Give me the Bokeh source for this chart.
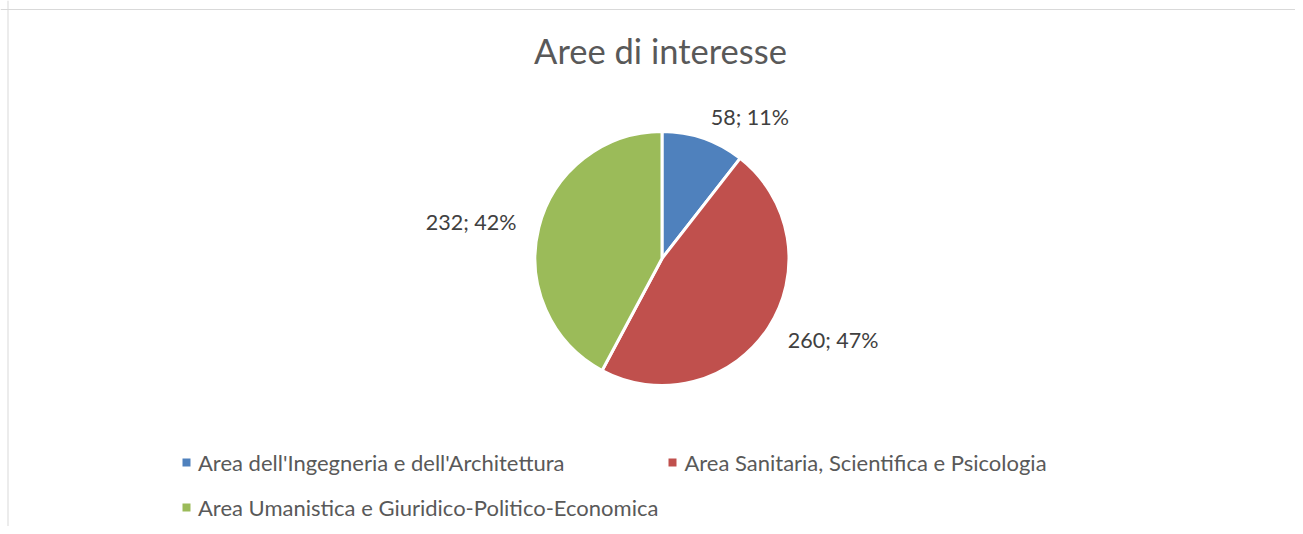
import math
from bokeh.plotting import figure
from bokeh.models import (ColumnDataSource, Range1d, Span, Label, Legend, LegendItem)
from bokeh.core.properties import value
from bokeh.embed import file_html
from bokeh.resources import INLINE

# ---- data ----
title_text = "Aree di interesse"
categories = [
    "Area dell'Ingegneria e dell'Architettura",
    "Area Sanitaria, Scientifica e Psicologia",
    "Area Umanistica e Giuridico-Politico-Economica",
]
counts = [58, 260, 232]
colors = ["#4F81BD", "#C0504D", "#9BBB59"]

# ---- layout constants (pixels == data units) ----
W, H = 1295, 526
CX, CY, R = 661.5, 268, 127
LABEL_R = 150
FONT = "Lato"

total = sum(counts)
starts, ends, lx, ly, ltext, lalign = [], [], [], [], [], []
cum = 0
for v in counts:
    a0 = math.pi / 2 - 2 * math.pi * cum / total
    cum += v
    a1 = math.pi / 2 - 2 * math.pi * cum / total
    starts.append(a0)
    ends.append(a1)
    mid = (a0 + a1) / 2
    lx.append(CX + LABEL_R * math.cos(mid))
    ly.append(CY + LABEL_R * math.sin(mid))
    ltext.append(f"{v}; {round(100 * v / total)}%")
    lalign.append("left" if math.cos(mid) >= 0 else "right")

src = ColumnDataSource(dict(cat=categories, count=counts, color=colors,
                            start=starts, end=ends, lx=lx, ly=ly,
                            ltext=ltext, lalign=lalign))

p = figure(width=W, height=H, output_backend="svg", toolbar_location=None,
           x_range=Range1d(0, W), y_range=Range1d(0, H),
           x_axis_type=None, y_axis_type=None, min_border=0,
           background_fill_color="white", border_fill_color="white")
p.outline_line_color = None
p.grid.visible = False

# frame lines (chart area border: top and left visible)
p.add_layout(Span(location=H - 9, dimension="width", line_color="#D9D9D9", line_width=1))
p.add_layout(Span(location=7.5, dimension="height", line_color="#D9D9D9", line_width=1))

p.wedge(x=CX, y=CY, radius=R, start_angle="start", end_angle="end",
        direction="clock", fill_color="color", line_color="white",
        line_width=3, source=src)

p.text(x="lx", y="ly", text="ltext", text_align="lalign", text_baseline="middle",
       text_font=value(FONT), text_font_size="21.5px", text_color="#404040",
       source=src)

p.add_layout(Label(x=660, y=476, text=title_text, text_align="center",
                   text_baseline="alphabetic", text_font=FONT,
                   text_font_size="34.5px", text_color="#595959"))

# legend proxies
nan = float("nan")
proxy = ColumnDataSource(dict(left=[nan] * 3, right=[nan] * 3, top=[nan] * 3,
                              bottom=[nan] * 3, color=colors))
pr = p.quad(left="left", right="right", top="top", bottom="bottom",
            fill_color="color", line_color=None, source=proxy)
items = [LegendItem(label=c, renderers=[pr], index=i) for i, c in enumerate(categories)]
legend = Legend(items=items, ncols=2, location=(181, 1), orientation="horizontal",
                glyph_width=10, glyph_height=10, label_height=36, spacing=9,
                label_standoff=7, padding=0, margin=0,
                border_line_color=None, background_fill_alpha=0,
                label_text_font=FONT, label_text_font_size="22px",
                label_text_color="#595959")
p.add_layout(legend, "center")

open("out.html", "w").write(file_html(p, INLINE))
